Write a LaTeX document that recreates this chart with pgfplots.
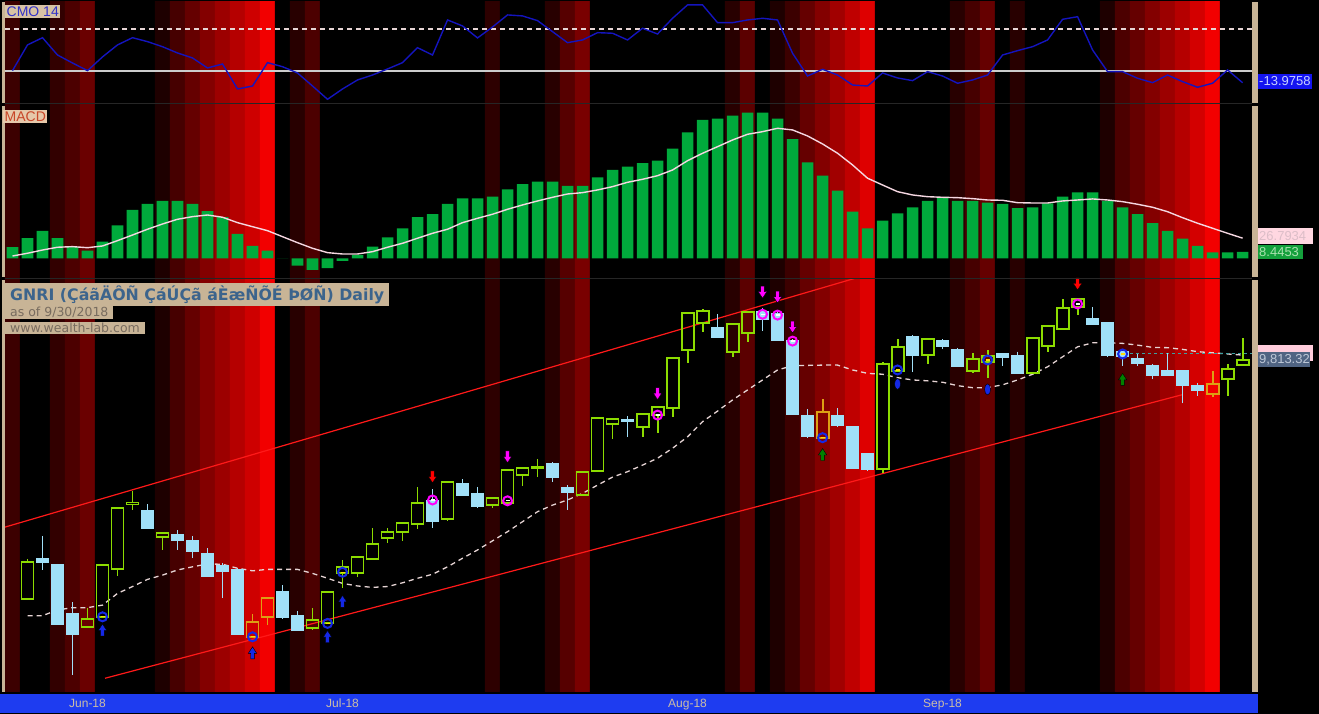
\documentclass[border=0pt]{standalone}
\usepackage{fontspec}
\setmainfont{Liberation Sans}
\newfontfamily\capfont{DejaVu Sans}
\usepackage{pgfplots}
\pgfplotsset{compat=1.18}
\usepgfplotslibrary{statistics}

\definecolor{tanbar}{RGB}{200,180,150}
\definecolor{stripblue}{RGB}{30,60,240}
\definecolor{monthtxt}{RGB}{205,190,165}
\definecolor{cmoblue}{RGB}{20,20,190}
\definecolor{macdgreen}{RGB}{0,170,60}
\definecolor{sigpink}{RGB}{245,215,225}
\definecolor{upgreen}{RGB}{140,220,0}
\definecolor{dnblue}{RGB}{160,224,248}
\definecolor{uporange}{RGB}{220,160,20}
\definecolor{sigmag}{RGB}{255,0,255}
\definecolor{ringblue}{RGB}{20,40,230}
\definecolor{maline}{RGB}{230,212,212}
\definecolor{chan}{RGB}{255,25,25}
\definecolor{lastline}{RGB}{60,160,160}
\definecolor{cmotag}{RGB}{20,20,240}
\definecolor{cmotagtxt}{RGB}{200,210,255}
\definecolor{sigtag}{RGB}{255,215,225}
\definecolor{sigtagtxt}{RGB}{220,190,200}
\definecolor{histtag}{RGB}{20,160,60}
\definecolor{histtagtxt}{RGB}{170,225,175}
\definecolor{matag}{RGB}{255,205,220}
\definecolor{pricetag}{RGB}{80,100,130}
\definecolor{pricetagtxt}{RGB}{190,200,215}
\definecolor{cmolbl}{RGB}{215,195,165}
\definecolor{cmolbltxt}{RGB}{50,50,200}
\definecolor{macdlbl}{RGB}{230,200,170}
\definecolor{macdlbltxt}{RGB}{200,70,40}
\definecolor{titletxt}{RGB}{60,100,140}
\definecolor{subtxt}{RGB}{120,108,95}

\newcommand{\fs}[1]{\fontsize{#1}{#1}\selectfont}

\pgfdeclareplotmark{dnarrow}{%
  \pgfpathmoveto{\pgfqpoint{-1.8pt}{6pt}}\pgfpathlineto{\pgfqpoint{1.8pt}{6pt}}%
  \pgfpathlineto{\pgfqpoint{1.8pt}{0.5pt}}\pgfpathlineto{\pgfqpoint{4.2pt}{0.5pt}}%
  \pgfpathlineto{\pgfqpoint{0pt}{-6pt}}\pgfpathlineto{\pgfqpoint{-4.2pt}{0.5pt}}%
  \pgfpathlineto{\pgfqpoint{-1.8pt}{0.5pt}}\pgfpathclose\pgfusepathqfillstroke}
\pgfdeclareplotmark{uparrow}{%
  \pgfpathmoveto{\pgfqpoint{-1.8pt}{-6pt}}\pgfpathlineto{\pgfqpoint{1.8pt}{-6pt}}%
  \pgfpathlineto{\pgfqpoint{1.8pt}{-0.5pt}}\pgfpathlineto{\pgfqpoint{4.2pt}{-0.5pt}}%
  \pgfpathlineto{\pgfqpoint{0pt}{6pt}}\pgfpathlineto{\pgfqpoint{-4.2pt}{-0.5pt}}%
  \pgfpathlineto{\pgfqpoint{-1.8pt}{-0.5pt}}\pgfpathclose\pgfusepathqfillstroke}
\pgfdeclareplotmark{pill}{%
  \pgfpathellipse{\pgfpointorigin}{\pgfqpoint{3pt}{0pt}}{\pgfqpoint{0pt}{5.5pt}}\pgfusepathqfillstroke}

\pgfplotsset{
  panel/.style={scale only axis, anchor=south west, width=1247pt, xmin=-0.5, xmax=82.63},
  cg/.style={color=upgreen, draw=upgreen, fill=none, line width=1.9pt,
    boxplot/every box/.style={draw=upgreen, fill=none},
    boxplot/every whisker/.style={draw=upgreen},
    boxplot/every median/.style={draw=upgreen}},
  cb/.style={color=dnblue, draw=dnblue, fill=dnblue, line width=1.3pt,
    boxplot/every box/.style={draw=dnblue, fill=dnblue},
    boxplot/every whisker/.style={draw=dnblue},
    boxplot/every median/.style={draw=dnblue}},
  co/.style={color=uporange, draw=uporange, fill=none, line width=1.9pt,
    boxplot/every box/.style={draw=uporange, fill=none},
    boxplot/every whisker/.style={draw=uporange},
    boxplot/every median/.style={draw=uporange}},
  boxplot/draw direction=y,
  boxplot/box extend=0.8,
  boxplot/whisker extend=0,
}
% candle: style, bar, low, body low, body high, high
\newcommand{\cdl}[6]{\addplot[#1, boxplot prepared={draw position=#2, lower whisker=#3,
  lower quartile=#4, median=#4, upper quartile=#5, upper whisker=#6}] coordinates {};}

\begin{document}
\begin{tikzpicture}[x=1pt, y=1pt]
\fill[black] (0,0) rectangle (1319,714);
\fill[stripblue] (0,1) rectangle (1258,20);

% red shading behind all panels
\begin{axis}[panel, at={(5pt,22pt)}, height=690pt, ymin=0, ymax=1, hide axis,
  colormap={redmap}{rgb255=(0,0,0) rgb255=(255,0,0)},
  point meta min=0, point meta max=255]
\addplot[matrix plot*, mesh/cols=83, point meta=explicit] coordinates {
(0,0)[60] (1,0)[0] (2,0)[0] (3,0)[50] (4,0)[75] (5,0)[105] (6,0)[0] (7,0)[0] (8,0)[0] (9,0)[0]
(10,0)[30] (11,0)[70] (12,0)[100] (13,0)[130] (14,0)[155] (15,0)[180] (16,0)[205] (17,0)[240] (18,0)[0] (19,0)[40]
(20,0)[75] (21,0)[0] (22,0)[0] (23,0)[0] (24,0)[0] (25,0)[0] (26,0)[0] (27,0)[0] (28,0)[0] (29,0)[0]
(30,0)[0] (31,0)[0] (32,0)[45] (33,0)[0] (34,0)[0] (35,0)[0] (36,0)[40] (37,0)[85] (38,0)[120] (39,0)[0]
(40,0)[0] (41,0)[0] (42,0)[0] (43,0)[0] (44,0)[0] (45,0)[0] (46,0)[0] (47,0)[0] (48,0)[40] (49,0)[90]
(50,0)[0] (51,0)[30] (52,0)[60] (53,0)[100] (54,0)[130] (55,0)[160] (56,0)[190] (57,0)[220] (58,0)[0] (59,0)[0]
(60,0)[0] (61,0)[0] (62,0)[0] (63,0)[40] (64,0)[70] (65,0)[100] (66,0)[0] (67,0)[40] (68,0)[0] (69,0)[0]
(70,0)[0] (71,0)[0] (72,0)[0] (73,0)[30] (74,0)[75] (75,0)[100] (76,0)[130] (77,0)[155] (78,0)[180] (79,0)[210]
(80,0)[240] (81,0)[0] (82,0)[0]
(0,1)[60] (1,1)[0] (2,1)[0] (3,1)[50] (4,1)[75] (5,1)[105] (6,1)[0] (7,1)[0] (8,1)[0] (9,1)[0]
(10,1)[30] (11,1)[70] (12,1)[100] (13,1)[130] (14,1)[155] (15,1)[180] (16,1)[205] (17,1)[240] (18,1)[0] (19,1)[40]
(20,1)[75] (21,1)[0] (22,1)[0] (23,1)[0] (24,1)[0] (25,1)[0] (26,1)[0] (27,1)[0] (28,1)[0] (29,1)[0]
(30,1)[0] (31,1)[0] (32,1)[45] (33,1)[0] (34,1)[0] (35,1)[0] (36,1)[40] (37,1)[85] (38,1)[120] (39,1)[0]
(40,1)[0] (41,1)[0] (42,1)[0] (43,1)[0] (44,1)[0] (45,1)[0] (46,1)[0] (47,1)[0] (48,1)[40] (49,1)[90]
(50,1)[0] (51,1)[30] (52,1)[60] (53,1)[100] (54,1)[130] (55,1)[160] (56,1)[190] (57,1)[220] (58,1)[0] (59,1)[0]
(60,1)[0] (61,1)[0] (62,1)[0] (63,1)[40] (64,1)[70] (65,1)[100] (66,1)[0] (67,1)[40] (68,1)[0] (69,1)[0]
(70,1)[0] (71,1)[0] (72,1)[0] (73,1)[30] (74,1)[75] (75,1)[100] (76,1)[130] (77,1)[155] (78,1)[180] (79,1)[210]
(80,1)[240] (81,1)[0] (82,1)[0]
};
\end{axis}

% CMO 14
\begin{axis}[panel, at={(5pt,611pt)}, height=101pt, ymin=-38.1, ymax=82.1, hide axis]
\addplot[draw=maline, line width=1.2pt, dash pattern=on 5pt off 4pt] coordinates {(-0.5,50) (82.63,50)};
\addplot[draw=white!80!black, line width=1.5pt] coordinates {(-0.5,0) (82.63,0)};
\addplot[cmoblue, line width=1.4pt] table {
x y
0 0.4
1 31
2 39.6
3 19
4 9.5
5 0.4
6 16.7
7 31
8 39.6
9 34.9
10 28.9
11 21.4
12 15.5
13 3.6
14 8.3
15 -21.4
16 -17.9
17 9.9
18 5.1
19 -2.4
20 -17.9
21 -33.7
22 -21.4
23 -10.7
24 -4.8
25 2.4
26 9.9
27 27.7
28 19
29 60.7
30 53.6
31 39.3
32 52.4
33 66.7
34 65.5
35 59.9
36 46.8
37 33.7
38 36.9
39 45.6
40 44.9
41 36.9
42 50.8
43 44
44 62.7
45 78.6
46 78.6
47 57.5
48 57.5
49 60.7
50 62.7
51 60.7
52 21.1
53 -6
54 2
55 -4.8
56 -16.7
57 -17.9
58 -2.4
59 -8.3
60 -11.5
61 -0.8
62 -6
63 -14.6
64 -10.7
65 -4.8
66 19
67 24.2
68 28.9
69 36.9
70 61.5
71 64.6
72 25
73 -0.8
74 -0.8
75 -8.7
76 -13.9
77 -4.8
78 -12.7
79 -19.4
80 -14.6
81 1.2
82 -13.9758
};
\end{axis}

% MACD
\begin{axis}[panel, at={(5pt,436pt)}, height=174pt, ymin=-26.3, ymax=205.7, hide axis]
\addplot[ybar, bar width=0.77, fill=macdgreen, draw=none] table {
x y
0 14.7
1 26.7
2 36.4
3 26.7
4 14.7
5 10.1
6 22.1
7 44
8 64.4
9 72.4
10 76.4
11 76.4
12 72.4
13 62.7
14 54.7
15 32.4
16 16.4
17 10.1
18 0
19 -9.9
20 -15.6
21 -13.3
22 -3.6
23 4.4
24 15.5
25 28
26 40
27 54.7
28 58.7
29 72.4
30 80
31 80
32 82.1
33 92
34 98.7
35 102.1
36 102.1
37 96.4
38 96.4
39 108
40 117.7
41 122.1
42 126.7
43 130.1
44 146.1
45 168
46 184.4
47 186.1
48 190.1
49 194.1
50 194.1
51 186.1
52 158.7
53 128
54 110.1
55 90.1
56 62.1
57 40
58 50.1
59 60
60 68
61 76.4
62 80.8
63 76.4
64 76.4
65 74.1
66 72.4
67 66.7
68 68
69 73.3
70 82.1
71 88
72 88
73 76.4
74 68
75 58.7
76 46.7
77 36.4
78 26.1
79 16.4
80 8
81 8
82 8.4453
};
\addplot[sigpink, line width=1.4pt] table {
x y
0 3
1 6.7
2 11
3 14.7
4 15.5
5 14.1
6 16.4
7 23.5
8 31
9 38.7
10 45.7
11 52
12 55.5
13 57.7
14 54.7
15 47.5
16 42.1
17 36.8
18 28.8
19 20.8
20 13.3
21 7.5
22 5.7
23 5.7
24 8.8
25 14.7
26 20
27 26.7
28 33.3
29 38.7
30 47.5
31 53.3
32 58.7
33 65.3
34 71.1
35 76.4
36 81.3
37 85.7
38 87.5
39 91.1
40 95.5
41 101.3
42 105.3
43 110.1
44 117.7
45 130.1
46 140
47 148.8
48 157.7
49 165.3
50 168.8
51 173.3
52 171.1
53 163.1
54 152.4
55 140
56 124.4
57 106.7
58 97.7
59 88.8
60 84.4
61 82.1
62 81.3
63 80.8
64 79.5
65 77.7
66 77.3
67 74.1
68 73.7
69 73.7
70 76.4
71 77.7
72 79.1
73 77.7
74 75.5
75 72
76 68
77 62.1
78 54.1
79 46.7
80 40
81 33.3
82 26.7934
};
\end{axis}

% price panel
\begin{axis}[panel, at={(5pt,22pt)}, height=413pt, ymin=8653, ymax=10098.5, disabledatascaling,
  axis line style={draw=none}, tick style={draw=none}, ytick=\empty,
  xtick={5,22,45,62}, xticklabels={Jun-18,Jul-18,Aug-18,Sep-18},
  xticklabel style={font=\fs{12}, text=monthtxt, anchor=base, yshift=-16pt}]
% regression channel
\addplot[chan, line width=1.2pt] coordinates {(-0.5,9230) (56.5,10106)};
\addplot[chan, line width=1.2pt] coordinates {(6.17,8701) (77.95,9693)};
% moving average
\addplot[maline, line width=1.3pt, dash pattern=on 5pt off 4pt] table {
x y
1 8920
2 8920
3 8940
4 8948
5 8948
6 8957
7 8998
8 9022
9 9047
10 9062
11 9080
12 9091
13 9101
14 9100
15 9086
16 9077
17 9082
18 9082
19 9082
20 9068
21 9051
22 9033
23 9024
24 9019
25 9022
26 9035
27 9051
28 9065
29 9091
30 9121
31 9150
32 9182
33 9214
34 9249
35 9284
36 9307
37 9325
38 9348
39 9377
40 9405
41 9424
42 9447
43 9471
44 9506
45 9546
46 9599
47 9636
48 9675
49 9710
50 9745
51 9780
52 9795
53 9796
54 9797
55 9797
56 9780
57 9768
58 9765
59 9753
60 9745
61 9742
62 9737
63 9725
64 9718
65 9718
66 9728
67 9745
68 9765
69 9791
70 9826
71 9861
72 9875
73 9875
74 9873
75 9867
76 9859
77 9858
78 9852
79 9844
80 9840
81 9836
82 9832
};
\addplot[lastline, line width=1.2pt, dash pattern=on 3pt off 3pt] coordinates {(74.5,9838) (82.63,9838)};
% candles
\cdl{cg}{1}{8976}{8977}{9109}{9117}
\cdl{cb}{2}{9080}{9107}{9121}{9199}
\cdl{cb}{3}{8890}{8891}{9100}{9101}
\cdl{cb}{4}{8712}{8855}{8926}{8967}
\cdl{cg}{5}{8880}{8881}{8908}{8946}
\cdl{cg}{6}{8912}{8916}{9097}{9098}
\cdl{cg}{7}{9059}{9082}{9298}{9299}
\cdl{cg}{8}{9290}{9309}{9316}{9357}
\cdl{cb}{9}{9225}{9226}{9287}{9310}
\cdl{cg}{10}{9150}{9196}{9210}{9211}
\cdl{cb}{11}{9150}{9185}{9202}{9220}
\cdl{cb}{12}{9121}{9144}{9182}{9199}
\cdl{cb}{13}{9058}{9059}{9138}{9156}
\cdl{cb}{14}{8981}{9074}{9094}{9103}
\cdl{cb}{15}{8854}{8855}{9082}{9086}
\cdl{co}{16}{8841}{8846}{8899}{8926}
\cdl{co}{17}{8887}{8916}{8983}{8984}
\cdl{cb}{18}{8912}{8913}{9004}{9027}
\cdl{cb}{19}{8869}{8870}{8920}{8937}
\cdl{cg}{20}{8870}{8876}{8905}{8946}
\cdl{cg}{21}{8891}{8893}{9004}{9005}
\cdl{cg}{22}{9016}{9068}{9091}{9115}
\cdl{cg}{23}{9054}{9070}{9124}{9125}
\cdl{cg}{24}{9115}{9117}{9171}{9226}
\cdl{cg}{25}{9175}{9191}{9214}{9226}
\cdl{cg}{26}{9181}{9214}{9245}{9246}
\cdl{cg}{27}{9222}{9240}{9313}{9371}
\cdl{cb}{28}{9228}{9249}{9321}{9362}
\cdl{cg}{29}{9252}{9258}{9387}{9388}
\cdl{cb}{30}{9341}{9342}{9381}{9398}
\cdl{cb}{31}{9300}{9301}{9346}{9371}
\cdl{cg}{32}{9296}{9307}{9331}{9332}
\cdl{cg}{33}{9307}{9313}{9430}{9431}
\cdl{cg}{34}{9374}{9412}{9438}{9439}
\cdl{cg}{35}{9406}{9437}{9442}{9467}
\cdl{cb}{36}{9389}{9404}{9451}{9458}
\cdl{cb}{37}{9290}{9350}{9369}{9377}
\cdl{cg}{38}{9341}{9342}{9424}{9425}
\cdl{cg}{39}{9426}{9427}{9613}{9614}
\cdl{cg}{40}{9538}{9591}{9607}{9608}
\cdl{cb}{41}{9546}{9600}{9605}{9619}
\cdl{cg}{42}{9546}{9579}{9625}{9626}
\cdl{cg}{43}{9560}{9622}{9649}{9650}
\cdl{cg}{44}{9616}{9648}{9823}{9824}
\cdl{cg}{45}{9803}{9850}{9980}{9981}
\cdl{cg}{46}{9914}{9943}{9986}{9992}
\cdl{cb}{47}{9893}{9894}{9929}{9976}
\cdl{cg}{48}{9824}{9844}{9940}{9941}
\cdl{cg}{49}{9877}{9910}{9982}{9983}
\cdl{cb}{50}{9916}{9958}{9984}{9998}
\cdl{cb}{51}{9884}{9885}{9978}{9990}
\cdl{cb}{52}{9625}{9626}{9882}{9887}
\cdl{cb}{53}{9545}{9546}{9619}{9642}
\cdl{co}{54}{9540}{9541}{9634}{9677}
\cdl{cb}{55}{9584}{9585}{9619}{9646}
\cdl{cb}{56}{9435}{9436}{9581}{9582}
\cdl{cb}{57}{9427}{9433}{9486}{9487}
\cdl{cg}{58}{9418}{9433}{9801}{9807}
\cdl{cg}{59}{9775}{9776}{9861}{9888}
\cdl{cb}{60}{9772}{9830}{9896}{9902}
\cdl{cg}{61}{9801}{9832}{9887}{9888}
\cdl{cb}{62}{9852}{9861}{9881}{9887}
\cdl{cb}{63}{9793}{9794}{9850}{9856}
\cdl{cg}{64}{9768}{9777}{9818}{9840}
\cdl{cg}{65}{9751}{9807}{9830}{9850}
\cdl{cb}{66}{9794}{9824}{9836}{9839}
\cdl{cb}{67}{9767}{9768}{9830}{9844}
\cdl{cg}{68}{9767}{9768}{9891}{9892}
\cdl{cg}{69}{9844}{9864}{9934}{9935}
\cdl{cg}{70}{9921}{9922}{9996}{10028}
\cdl{cg}{71}{9972}{9999}{10028}{10031}
\cdl{cb}{72}{9940}{9941}{9961}{10001}
\cdl{cb}{73}{9829}{9830}{9945}{9946}
\cdl{cb}{74}{9794}{9826}{9844}{9845}
\cdl{cb}{75}{9794}{9803}{9821}{9835}
\cdl{cb}{76}{9747}{9762}{9794}{9801}
\cdl{cb}{77}{9761}{9762}{9777}{9838}
\cdl{cb}{78}{9663}{9727}{9777}{9778}
\cdl{cb}{79}{9690}{9710}{9725}{9735}
\cdl{co}{80}{9686}{9695}{9730}{9777}
\cdl{cg}{81}{9690}{9747}{9782}{9801}
\cdl{cg}{82}{9796}{9797}{9813.32}{9893}
% signal rings
\addplot[only marks, mark=o, mark size=4.5pt, draw=sigmag, line width=2pt] coordinates {
(28,9325) (33,9322) (43,9622) (50,9975) (51,9972) (52,9881) (71,10011)};
\addplot[only marks, mark=-, mark size=2pt, draw=white, line width=1.2pt] coordinates {
(28,9325) (33,9322) (43,9622) (50,9975) (51,9972) (52,9881) (71,10011)};
\addplot[only marks, mark=o, mark size=4.5pt, draw=ringblue, line width=2pt] coordinates {
(6,8916) (16,8846) (21,8893) (22,9072) (54,9543) (59,9780) (65,9815) (74,9836)};
\addplot[only marks, mark=-, mark size=2pt, draw=yellow!80!orange, line width=1.2pt] coordinates {
(6,8916) (16,8846) (21,8893) (22,9072) (54,9543) (59,9780) (65,9815) (74,9836)};
% arrows
\addplot[only marks, mark=dnarrow, mark options={fill=sigmag, draw=black, line width=0.4pt}] coordinates {
(33,9476) (43,9697) (50,10052) (51,10035) (52,9930)};
\addplot[only marks, mark=dnarrow, mark options={fill=red, draw=black, line width=0.4pt}] coordinates {
(28,9406) (71,10081)};
\addplot[only marks, mark=uparrow, mark options={fill=ringblue, draw=black, line width=0.4pt}] coordinates {
(6,8870) (16,8790) (21,8847) (22,8970)};
\addplot[only marks, mark=pill, mark options={fill=ringblue, draw=black, line width=0.4pt}] coordinates {
(59,9731) (65,9712)};
\addplot[only marks, mark=uparrow, mark options={fill=green!50!black, draw=black, line width=0.4pt}] coordinates {
(54,9484) (74,9747)};
\end{axis}

% frame pieces
\fill[tanbar] (2,611) rectangle (5,712);
\fill[tanbar] (2,437) rectangle (5,608);
\fill[tanbar] (2,22) rectangle (5,434);
\fill[tanbar] (1252,611) rectangle (1258,712);
\fill[tanbar] (1252,437) rectangle (1258,608);
\fill[tanbar] (1252,22) rectangle (1258,434);
\draw[black!85!white, line width=1pt] (5,610) -- (1252,610);
\draw[black!85!white, line width=1pt] (5,435.5) -- (1252,435.5);

% panel captions
\node[fill=cmolbl, text=cmolbltxt, anchor=north west, inner sep=1.5pt, font=\fs{14}] at (5,709) {CMO 14};
\node[fill=macdlbl, text=macdlbltxt, anchor=north west, inner sep=1.5pt, font=\fs{14}] at (3,604) {MACD};
\node[fill=tanbar, text=titletxt, anchor=north west, inner xsep=5pt, inner ysep=2.5pt, font=\capfont\fs{15.8}\bfseries]
  at (5,431) {GNRI (ÇáãÄÔÑ ÇáÚÇã áÈæÑÕÉ ÞØÑ) Daily};
\node[fill=tanbar, text=subtxt, anchor=north west, inner xsep=5pt, inner ysep=1.5pt, font=\capfont\fs{12.5}] at (5,409) {as of 9/30/2018};
\node[fill=tanbar, text=subtxt, anchor=north west, inner xsep=5pt, inner ysep=1.5pt, font=\capfont\fs{12.5}] at (5,392.5) {www.wealth-lab.com};

% last-value tags
\fill[cmotag] (1258,625) rectangle (1312,640);
\node[anchor=west, inner sep=1pt, font=\fs{13}, text=cmotagtxt] at (1258,632.5) {-13.9758};
\fill[sigtag] (1258,470) rectangle (1313,486);
\node[anchor=west, inner sep=1pt, font=\fs{13}, text=sigtagtxt] at (1258,478) {26.7934};
\fill[histtag] (1258,455) rectangle (1303,469);
\node[anchor=west, inner sep=1pt, font=\fs{13}, text=histtagtxt] at (1258,462) {8.4453};
\fill[matag] (1258,353) rectangle (1313,369);
\fill[pricetag] (1258,347) rectangle (1310,362);
\node[anchor=west, inner sep=1pt, font=\fs{13}, text=pricetagtxt] at (1258,354.5) {9,813.32};
\end{tikzpicture}
\end{document}
